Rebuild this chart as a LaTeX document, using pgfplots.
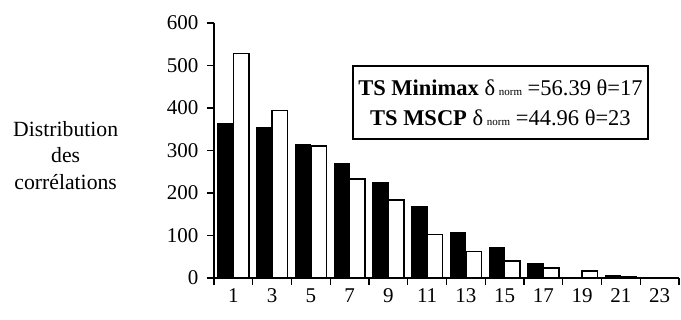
\documentclass[border=0pt]{standalone}
\usepackage{fontspec}
\setmainfont{Liberation Serif}
\usepackage{pgfplots}
\pgfplotsset{compat=1.18}
\begin{document}
\begin{tikzpicture}[x=1pt,y=1pt]
\begin{axis}[
  at={(214pt,42pt)}, anchor=south west,
  scale only axis, width=465pt, height=255pt,
  xmin=0, xmax=24, ymin=0, ymax=600,
  axis lines*=left,
  axis line style={line width=1.5pt},
  ytick={0,100,...,600},
  xtick={1,3,...,23},
  minor xtick={0,2,...,24},
  major x tick style={draw=none},
  tick align=outside,
  tick style={line width=1.2pt, black},
  major tick length=7pt, minor tick length=7pt,
  ticklabel style={font=\fontsize{21}{24}\selectfont},
  yticklabel style={xshift=-5pt},
  /pgf/number format/assume math mode=true,
  ybar, bar width=15.5pt,
  clip=false,
]
\addplot[fill=black, draw=black, line width=1pt, bar shift=-7.75pt] coordinates {
 (1,363) (3,354) (5,314) (7,270) (9,225) (11,168) (13,107) (15,71) (17,35) (19,0) (21,5) (23,1)};
\addplot[fill=white, draw=black, line width=1.5pt, bar shift=7.75pt] coordinates {
 (1,528) (3,394) (5,310) (7,233) (9,183) (11,102) (13,62) (15,40) (17,24) (19,16) (21,2) (23,1)};
\node[align=center, font=\fontsize{21.7}{26.5}\selectfont] at (rel axis cs:-0.319,0.482)
  {Distribution\\des\\corrélations};
\node[draw=black, line width=1.5pt, fill=white, align=center, inner sep=3pt,
      minimum width=295pt, minimum height=73pt,
      font=\fontsize{22.5}{30}\selectfont] at (rel axis cs:0.616,0.688)
  {\textbf{TS Minimax} δ\,{\fontsize{11}{12}\selectfont norm} =56.39 θ=17\\
   \textbf{TS MSCP} δ\,{\fontsize{11}{12}\selectfont norm} =44.96 θ=23};
\end{axis}
\pgfresetboundingbox
\path (0,0) rectangle (681,320);
\end{tikzpicture}
\end{document}
